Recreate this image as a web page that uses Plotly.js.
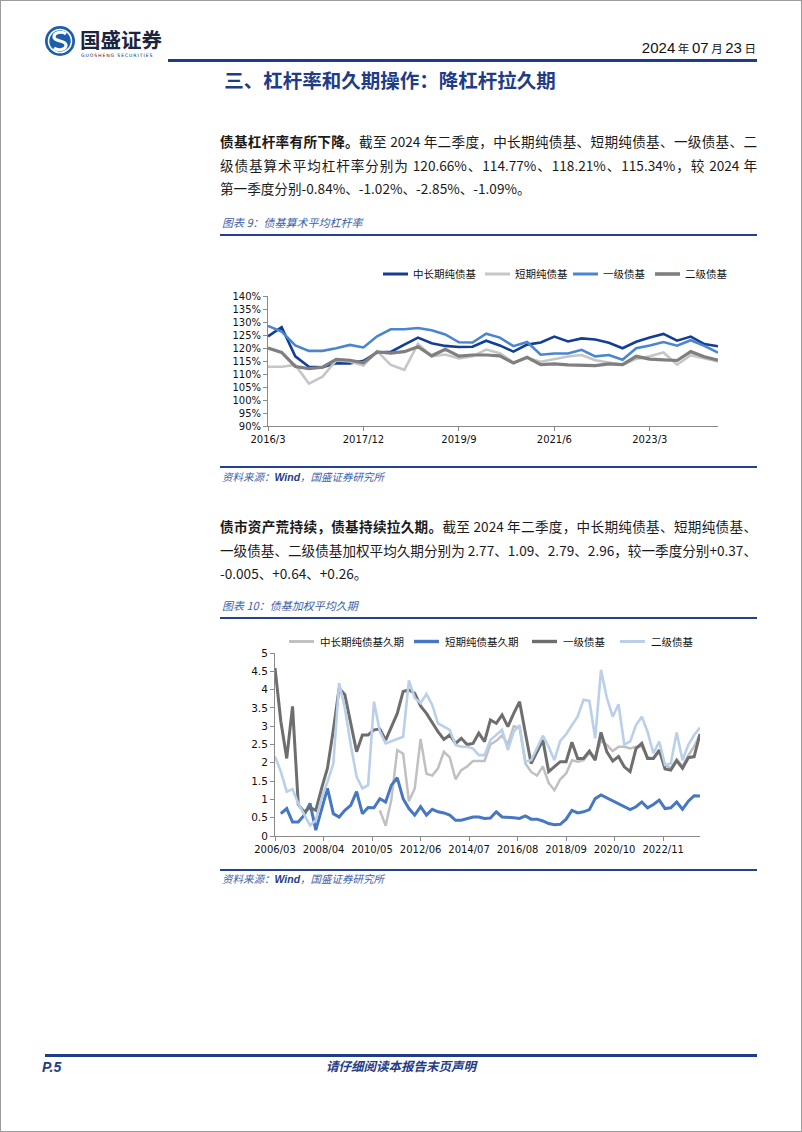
<!DOCTYPE html>
<html><head><meta charset="utf-8">
<script src="https://cdn.plot.ly/plotly-3.0.1.min.js"></script>
<style>
body{margin:0;background:#fff;}
#page{position:relative;width:802px;height:1132px;overflow:hidden;background:#fff;font-family:"Noto Sans CJK SC",sans-serif;}
#frame{position:absolute;left:0;top:0;width:800px;height:1130px;border:1px solid #9c9c9c;}
.para{position:absolute;left:220px;width:537px;font-size:13.6px;line-height:23.5px;color:#1a1a1a;}
.para div{text-align:justify;text-align-last:justify;}
.para div.last{text-align:left;text-align-last:left;}
.cap{position:absolute;left:222px;font-size:11px;font-style:italic;color:#3E5FA9;line-height:14px;}
.rule{position:absolute;left:220px;width:537px;height:2px;background:#24418F;}
.src{position:absolute;left:222px;font-size:10.5px;font-style:italic;color:#3E5FA9;line-height:14px;}
.src b{font-family:"Liberation Sans",sans-serif;color:#1F3C88;}
</style></head>
<body><div id="page">
<div id="frame"></div>

<svg style="position:absolute;left:43px;top:23px" width="130" height="38">
  <circle cx="17" cy="18" r="15" fill="#1B5EAB"/>
  <circle cx="17" cy="18" r="11.5" fill="none" stroke="#fff" stroke-width="1.6"/>
  <path d="M23 11 C19 8 11 9 11 14 C11 19 23 17 23 22 C23 27 15 28 11 25" fill="none" stroke="#fff" stroke-width="3.2"/>
  <text x="37" y="25" font-family="Noto Sans CJK SC" font-weight="700" font-size="20.5" fill="#1d2440">国盛证券</text>
  <text x="38" y="34" font-family="DejaVu Sans" font-size="4.6" letter-spacing="0.9" fill="#1d2440">GUOSHENG SECURITIES</text>
</svg>
<div style="position:absolute;right:46px;top:38px;font-family:'Liberation Sans',sans-serif;font-size:15px;color:#111;line-height:20px;">2024<span style="font-family:'Noto Sans CJK SC';font-size:11.5px"> 年 </span>07<span style="font-family:'Noto Sans CJK SC';font-size:11.5px"> 月 </span>23<span style="font-family:'Noto Sans CJK SC';font-size:11.5px"> 日</span></div>
<div style="position:absolute;left:168px;top:59px;width:589px;height:2.5px;background:#1F3C88"></div>
<div style="position:absolute;left:0;width:780px;top:66px;text-align:center;font-size:19.5px;font-weight:700;color:#1F3C88;line-height:28px;">三、杠杆率和久期操作：降杠杆拉久期</div>

<div class="para" style="top:130px">
<div><b>债基杠杆率有所下降。</b>截至 2024 年二季度，中长期纯债基、短期纯债基、一级债基、二</div>
<div>级债基算术平均杠杆率分别为 120.66%、114.77%、118.21%、115.34%，较 2024 年</div>
<div class="last">第一季度分别-0.84%、-1.02%、-2.85%、-1.09%。</div>
</div>

<div class="cap" style="top:215px">图表 9：债基算术平均杠杆率</div>
<div class="rule" style="top:234px;height:1.5px"></div>
<div id="chart1" style="position:absolute;left:220px;top:250px;width:540px;height:210px"></div>
<div class="rule" style="top:466px;height:1.5px"></div>
<div class="src" style="top:470px">资料来源：<b>Wind</b>，国盛证券研究所</div>

<div class="para" style="top:515px">
<div><b>债市资产荒持续，债基持续拉久期。</b>截至 2024 年二季度，中长期纯债基、短期纯债基、</div>
<div>一级债基、二级债基加权平均久期分别为 2.77、1.09、2.79、2.96，较一季度分别+0.37、</div>
<div class="last">-0.005、+0.64、+0.26。</div>
</div>

<div class="cap" style="top:598px">图表 10：债基加权平均久期</div>
<div class="rule" style="top:617px;height:1.5px"></div>
<div id="chart2" style="position:absolute;left:220px;top:608px;width:540px;height:260px"></div>
<div class="rule" style="top:869px;height:1.5px"></div>
<div class="src" style="top:872px">资料来源：<b>Wind</b>，国盛证券研究所</div>

<div style="position:absolute;left:45px;top:1054px;width:712px;height:3px;background:#1F3C88"></div>
<div style="position:absolute;left:42px;top:1058px;font-family:'Liberation Sans',sans-serif;font-weight:700;font-style:italic;font-size:14px;color:#1F3C88;line-height:18px">P.5</div>
<div style="position:absolute;left:0;width:802px;top:1057px;text-align:center;font-style:italic;font-weight:700;font-size:12.5px;color:#1F3C88;line-height:18px">请仔细阅读本报告末页声明</div>
</div>

<script>
// ---------- Chart 1: 债基算术平均杠杆率 (%) ----------
const levQuarters = ['2016/3','2016/6','2016/9','2016/12','2017/3','2017/6','2017/9','2017/12',
  '2018/3','2018/6','2018/9','2018/12','2019/3','2019/6','2019/9','2019/12',
  '2020/3','2020/6','2020/9','2020/12','2021/3','2021/6','2021/9','2021/12',
  '2022/3','2022/6','2022/9','2022/12','2023/3','2023/6','2023/9','2023/12','2024/3','2024/6'];
const levTicks = ['2016/3','2017/12','2019/9','2021/6','2023/3'];
const levNames = ['中长期纯债基','短期纯债基','一级债基','二级债基'];
const levMid = [124.5,128.0,116.8,112.8,112.6,114.1,114.1,115.1,118.3,118.5,121.3,124.0,121.8,120.8,120.4,120.5,
  122.8,121.0,118.6,121.3,122.1,124.4,122.5,123.7,123.3,122.0,119.9,122.4,124.0,125.4,122.8,124.4,121.5,120.66];
const levShort = [112.8,112.8,113.5,106.3,109.0,115.2,114.8,113.3,118.8,113.5,111.6,121.6,116.8,117.5,116.0,116.8,
  119.4,118.0,114.4,116.2,114.7,115.6,116.7,117.3,115.3,114.4,113.5,115.8,116.8,118.3,113.6,117.2,116.0,114.77];
const levBond1 = [128.5,126.3,121.0,118.9,118.9,119.9,121.2,120.2,124.5,127.2,127.2,127.7,126.8,125.2,122.2,122.1,
  125.5,124.0,120.7,122.3,117.4,117.9,117.9,119.3,116.8,117.3,115.5,119.9,121.0,122.3,120.9,123.0,120.8,118.21];
const levBond2 = [120.0,118.3,112.9,112.1,112.6,115.6,115.3,114.3,118.5,118.0,118.6,120.5,117.0,119.5,116.9,117.3,
  117.3,117.0,114.2,116.4,113.6,113.9,113.5,113.4,113.2,113.9,113.6,116.8,115.7,115.4,115.2,118.6,116.6,115.34];

// ---------- Chart 2: 债基加权平均久期 ----------
const durQuarters = [
 '2006/03','2006/06','2006/09','2006/12','2007/03','2007/06','2007/09','2007/12',
 '2008/03','2008/06','2008/09','2008/12','2009/03','2009/06','2009/09','2009/12',
 '2010/03','2010/06','2010/09','2010/12','2011/03','2011/06','2011/09','2011/12',
 '2012/03','2012/06','2012/09','2012/12','2013/03','2013/06','2013/09','2013/12',
 '2014/03','2014/06','2014/09','2014/12','2015/03','2015/06','2015/09','2015/12',
 '2016/03','2016/06','2016/09','2016/12','2017/03','2017/06','2017/09','2017/12',
 '2018/03','2018/06','2018/09','2018/12','2019/03','2019/06','2019/09','2019/12',
 '2020/03','2020/06','2020/09','2020/12','2021/03','2021/06','2021/09','2021/12',
 '2022/03','2022/06','2022/09','2022/12','2023/03','2023/06','2023/09','2023/12',
 '2024/03','2024/06'];
const durTicks = ['2006/03','2008/04','2010/05','2012/06','2014/07','2016/08','2018/09','2020/10','2022/11'];
const durNames = ['中长期纯债基久期','短期纯债基久期','一级债基','二级债基'];
const durMid = [null,null,null,null,null,null,null,null,null,null,null,null,null,null,null,null,null,null,
  0.70,0.28,1.00,2.35,2.25,0.95,1.30,2.65,1.70,1.65,1.85,2.30,2.15,1.55,1.80,1.90,2.05,2.05,2.05,2.50,2.60,2.75,
  2.50,3.00,2.95,1.98,1.75,1.65,1.90,1.45,1.25,1.55,1.71,2.07,2.03,2.07,2.26,2.17,2.60,2.49,2.32,2.44,
  2.44,2.39,2.44,2.45,2.15,2.12,2.30,1.95,1.85,2.10,1.90,2.20,2.45,2.77];
const durShort = [null,
  0.61,0.75,0.38,0.38,0.57,0.89,0.16,0.72,1.30,0.61,
  0.52,0.70,0.84,1.21,0.61,0.78,0.77,1.02,0.93,1.39,
  1.59,1.02,0.75,0.57,0.80,0.57,0.73,0.66,0.63,0.57,
  0.43,0.43,0.48,0.52,0.52,0.48,0.49,0.66,0.52,0.52,
  0.50,0.48,0.55,0.46,0.46,0.41,0.34,0.31,0.32,0.46,
  0.70,0.63,0.66,0.72,1.02,1.12,1.04,0.96,0.89,0.81,
  0.72,0.80,0.93,0.77,0.86,0.98,0.75,0.77,0.93,0.73,
  0.95,1.10,1.09];
const durBond1 = [4.59,3.13,2.12,3.54,0.86,0.66,0.78,0.70,1.30,1.85,
  2.90,4.04,3.86,3.03,2.30,2.76,2.76,2.90,2.92,2.62,
  2.99,3.35,3.95,3.99,3.90,3.55,3.35,3.08,2.85,2.64,
  2.76,2.53,2.67,2.50,2.53,2.81,2.58,3.17,3.08,3.31,
  2.99,3.35,3.67,2.81,1.98,2.30,2.62,1.76,1.89,2.03,
  2.03,2.56,2.12,2.12,2.32,2.07,2.83,2.30,2.05,2.17,
  1.89,1.76,2.39,2.53,2.12,2.12,2.35,1.83,1.80,2.06,
  1.85,2.14,2.17,2.79];
const durBond2 = [2.17,1.76,1.21,1.28,0.89,0.57,0.29,0.43,1.02,1.48,
  1.98,4.18,3.49,2.49,1.62,1.30,1.39,3.67,2.85,2.53,
  2.58,2.65,2.71,4.25,3.77,3.63,3.88,3.58,3.08,2.99,
  2.90,2.49,2.44,2.44,2.39,2.21,2.21,2.62,2.76,2.90,
  2.35,2.85,3.03,2.03,2.07,2.39,2.74,2.44,2.07,2.60,
  2.78,3.03,3.26,3.72,3.69,2.67,4.54,3.77,3.26,3.60,
  2.50,2.58,3.03,3.26,2.85,2.26,2.58,1.94,1.98,2.83,
  2.07,2.49,2.76,2.96];

const toDate = s => s.replace('/', '-') + '-01';
const tickFont = {family: 'DejaVu Sans', size: 10, color: '#111'};
const legFont = {family: 'Noto Sans CJK SC', size: 10.5, color: '#111'};
const axCommon = {showline: true, linecolor: '#8a8a8a', linewidth: 1, ticks: 'outside',
  tickcolor: '#8a8a8a', ticklen: 4, showgrid: false, zeroline: false, tickfont: tickFont, fixedrange: true};

// custom legend builder: sample line (shape) + label (annotation), placed in paper coordinates
function legendParts(names, colors, widths, starts, y, sampleLen, gap) {
  const shapes = [], anns = [];
  names.forEach((n, k) => {
    shapes.push({type: 'line', xref: 'paper', yref: 'paper', x0: starts[k], x1: starts[k] + sampleLen,
      y0: y, y1: y, line: {color: colors[k], width: widths[k] + 0.4}});
    anns.push({xref: 'paper', yref: 'paper', x: starts[k] + sampleLen + gap, y: y, text: n,
      showarrow: false, xanchor: 'left', yanchor: 'middle', font: legFont});
  });
  return {shapes, anns};
}

// Chart 1 (plot area 450 x 130 px, left edge at page x 268)
const lev = [levMid, levShort, levBond1, levBond2];
const levColors = ['#123F93', '#C6C6C6', '#4A86CF', '#7F7F7F'];
const levWidths = [2.6, 2.6, 2.6, 3.2];
const t1 = lev.map((ys, k) => ({x: levQuarters, y: ys, name: levNames[k], type: 'scatter', mode: 'lines',
  line: {color: levColors[k], width: levWidths[k]}}));
const L1 = legendParts(levNames, levColors, levWidths,
  [115 / 450, 217 / 450, 305 / 450, 387 / 450], 1 + 22 / 130, 25 / 450, 3 / 450);
Plotly.newPlot('chart1', t1, {
  width: 540, height: 210, margin: {l: 48, r: 42, t: 46, b: 34},
  paper_bgcolor: 'rgba(0,0,0,0)', plot_bgcolor: 'rgba(0,0,0,0)',
  xaxis: Object.assign({}, axCommon, {type: 'category', range: [0, levQuarters.length - 1],
    tickmode: 'array', tickvals: levTicks, ticktext: levTicks}),
  yaxis: Object.assign({}, axCommon, {range: [90, 140], dtick: 5, ticksuffix: '%'}),
  showlegend: false, shapes: L1.shapes, annotations: L1.anns
}, {staticPlot: true});

// Chart 2 (plot area 425 x 183 px, left edge at page x 275)
const dur = [durMid, durShort, durBond1, durBond2];
const durColors = ['#C0C0C0', '#4677C2', '#6E6E6E', '#B9CFEA'];
const durWidths = [2.5, 3, 3, 2.6];
const durX = durQuarters.map(toDate);
const t2 = dur.map((ys, k) => ({x: durX, y: ys, name: durNames[k], type: 'scatter', mode: 'lines',
  line: {color: durColors[k], width: durWidths[k]}}));
const L2 = legendParts(durNames, durColors, durWidths,
  [14 / 425, 139 / 425, 257 / 425, 345 / 425], 1 + 11.5 / 183, 25 / 425, 4 / 425);
Plotly.newPlot('chart2', t2, {
  width: 540, height: 260, margin: {l: 55, r: 60, t: 45, b: 32},
  paper_bgcolor: 'rgba(0,0,0,0)', plot_bgcolor: 'rgba(0,0,0,0)',
  xaxis: Object.assign({}, axCommon, {type: 'date', range: [toDate(durQuarters[0]), toDate(durQuarters[durQuarters.length - 1])],
    tickmode: 'array', tickvals: durTicks.map(toDate), ticktext: durTicks}),
  yaxis: Object.assign({}, axCommon, {range: [0, 5], dtick: 0.5, tickfont: {family: 'DejaVu Sans', size: 10.5, color: '#111'}}),
  showlegend: false, shapes: L2.shapes, annotations: L2.anns
}, {staticPlot: true});
</script>
</body></html>
